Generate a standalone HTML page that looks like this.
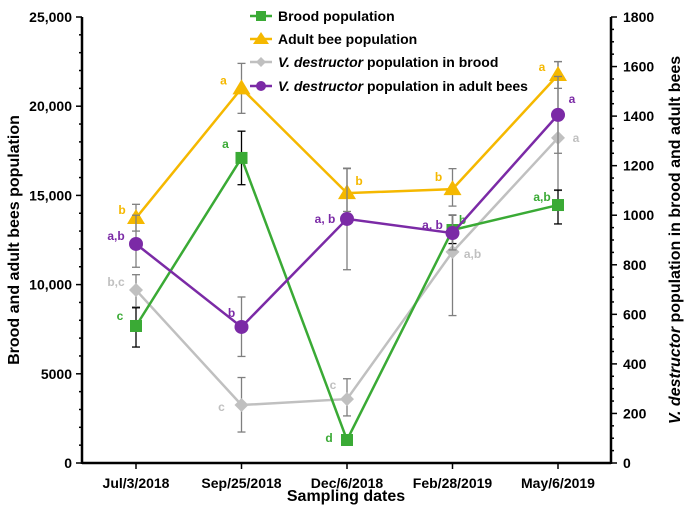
<!DOCTYPE html>
<html><head><meta charset="utf-8"><style>
html,body{margin:0;padding:0;background:#fff}
svg{display:block;font-family:"Liberation Sans",Arial,sans-serif}
</style></head><body>
<svg id="chart" width="688" height="508" viewBox="0 0 688 508" xmlns="http://www.w3.org/2000/svg"></svg>
<script>
const categories = ["Jul/3/2018","Sep/25/2018","Dec/6/2018","Feb/28/2019","May/6/2019"];
const leftTicks = [0,5000,10000,15000,20000,25000];
const leftTickLabels = ["0","5000","10,000","15,000","20,000","25,000"];
const rightTicks = [0,200,400,600,800,1000,1200,1400,1600,1800];
const broodValues = [7680,17100,1290,13060,14460];
const broodLow = [6500,15600,1000,12300,13400];
const broodHigh = [8700,18600,1500,13900,15300];
const broodLetters = ["c","a","d","b","a,b"];
const adultValues = [13730,21000,15130,15350,21750];
const adultLow = [13000,19600,14100,14400,21000];
const adultHigh = [14500,22400,16500,16500,22500];
const adultLetters = ["b","a","b","b","a"];
const miteBroodValues = [698,234,258,852,1312];
const miteBroodLow = [630,125,190,595,1100];
const miteBroodHigh = [760,345,340,1000,1620];
const miteBroodLetters = ["b,c","c","c","a,b","a"];
const miteAdultValues = [884,549,985,928,1405];
const miteAdultLow = [790,430,780,860,1250];
const miteAdultHigh = [1000,670,1190,1000,1560];
const miteAdultLetters = ["a,b","b","a, b","a, b","a"];

const svg = document.getElementById('chart');
const NS = "http://www.w3.org/2000/svg";
const X0=82, X1=611, Y0=463, Y1=17;
const xPos = i => 136 + i*105.5;
const yL = v => Y0 - v/25000*(Y0-Y1);
const yR = v => Y0 - v/1800*(Y0-Y1);
function mk(tag, attrs, parent){const e=document.createElementNS(NS,tag);for(const k in attrs)e.setAttribute(k,attrs[k]);(parent||svg).appendChild(e);return e;}
function txt(s, attrs, parent){const e=mk('text',attrs,parent);e.textContent=s;return e;}

// axes
const ax = mk('g',{});


mk('line',{x1:X0,y1:Y1,x2:X0,y2:Y0+1,stroke:'#000','stroke-width':2.5},ax);
mk('line',{x1:X1,y1:Y1,x2:X1,y2:Y0+1,stroke:'#000','stroke-width':2.5},ax);
mk('line',{x1:X0,y1:Y0,x2:X1,y2:Y0,stroke:'#000','stroke-width':2.5},ax);
for(let v=0;v<=25000;v+=1000){const y=yL(v);const major=v%5000===0;mk('line',{x1:X0-(major?6:3),y1:y,x2:X0,y2:y,stroke:'#000','stroke-width':1.5},ax);}
leftTicks.forEach((v,i)=>{const t=txt(leftTickLabels[i],{x:X0-10,y:yL(v)+5,'text-anchor':'end','font-size':14,'font-weight':'bold'},ax);

});
for(let v=0;v<=1800;v+=50){const y=yR(v);const major=v%200===0;mk('line',{x1:X1,y1:y,x2:X1+(major?6:3),y2:y,stroke:'#000','stroke-width':1.5},ax);}
rightTicks.forEach(v=>{const t=txt(String(v),{x:X1+12,y:yR(v)+5,'text-anchor':'start','font-size':14,'font-weight':'bold'},ax);

});
categories.forEach((c,i)=>{mk('line',{x1:xPos(i),y1:Y0,x2:xPos(i),y2:Y0+6,stroke:'#000','stroke-width':1.5},ax);
const t=txt(c,{x:xPos(i),y:Y0+25,'text-anchor':'middle','font-size':14,'font-weight':'bold'},ax);

});
const xt=txt('Sampling dates',{x:346,y:501,'text-anchor':'middle','font-size':16,'font-weight':'bold'});


const yt=txt('Brood and adult bees population',{x:0,y:0,'text-anchor':'middle','font-size':16,'font-weight':'bold',transform:'translate(19,240) rotate(-90)'});


const ry=mk('text',{x:0,y:0,'text-anchor':'middle','font-size':16,'font-weight':'bold',transform:'translate(680,240) rotate(-90)'});


ry.innerHTML='<tspan font-style="italic">V. destructor</tspan> population in brood and adult bees';

function marker(type,x,y,color,g){
  if(type==='sq') mk('rect',{x:x-6,y:y-6,width:12,height:12,fill:color},g);
  else if(type==='tri') mk('polygon',{points:`${x},${y-9} ${x-9},${y+6} ${x+9},${y+6}`,fill:color},g);
  else if(type==='dia') mk('polygon',{points:`${x},${y-7} ${x+7},${y} ${x},${y+7} ${x-7},${y}`,fill:color},g);
  else mk('circle',{cx:x,cy:y,r:7,fill:color},g);
}
function series(name,vals,lo,hi,letters,ys,color,barColor,type,lblDx,lblDy){
  const g=mk('g',{});
  
  
  vals.forEach((v,i)=>{const x=xPos(i);
    mk('line',{x1:x,y1:ys(lo[i]),x2:x,y2:ys(hi[i]),stroke:barColor,'stroke-width':1.3},g);
    mk('line',{x1:x-4,y1:ys(lo[i]),x2:x+4,y2:ys(lo[i]),stroke:barColor,'stroke-width':1.3},g);
    mk('line',{x1:x-4,y1:ys(hi[i]),x2:x+4,y2:ys(hi[i]),stroke:barColor,'stroke-width':1.3},g);});
  mk('polyline',{points:vals.map((v,i)=>xPos(i)+','+ys(v)).join(' '),fill:'none',stroke:color,'stroke-width':2.5},g);
  vals.forEach((v,i)=>{marker(type,xPos(i),ys(v),color,g);
    const t=txt(letters[i],{x:xPos(i)+lblDx[i],y:ys(v)+lblDy[i],'text-anchor':'middle','font-size':12,'font-weight':'bold',fill:color},g);
    
    });
}
series('series-mite-brood',miteBroodValues,miteBroodLow,miteBroodHigh,miteBroodLetters,yR,'#c0c0c0','#7f7f7f','dia',[-20,-20,-14,20,18],[-4,6,-10,6,4]);
series('series-brood',broodValues,broodLow,broodHigh,broodLetters,yL,'#3aaa35','#000','sq',[-16,-16,-18,10,-16],[-6,-10,2,-6,-4]);
series('series-adult',adultValues,adultLow,adultHigh,adultLetters,yL,'#f5b800','#7f7f7f','tri',[-14,-18,12,-14,-16],[-4,-4,-8,-8,-4]);
series('series-mite-adult',miteAdultValues,miteAdultLow,miteAdultHigh,miteAdultLetters,yR,'#7b2aa6','#7f7f7f','circ',[-20,-10,-22,-20,14],[-4,-10,4,-4,-12]);

// legend
const leg=[['Brood population','#3aaa35','sq',false],['Adult bee population','#f5b800','tri',false],['population in brood','#c0c0c0','dia',true],['population in adult bees','#7b2aa6','circ',true]];
const lys=[16,39,62,86];
leg.forEach((l,i)=>{const g=mk('g',{});
  
  
  const y=lys[i];
  mk('line',{x1:250,y1:y,x2:272,y2:y,stroke:l[1],'stroke-width':2.5},g);
  if(l[2]==='sq') mk('rect',{x:256,y:y-5,width:10,height:10,fill:l[1]},g);
  else if(l[2]==='tri') mk('polygon',{points:`261,${y-7} 253,${y+5} 269,${y+5}`,fill:l[1]},g);
  else if(l[2]==='dia') mk('polygon',{points:`261,${y-5} 266,${y} 261,${y+5} 256,${y}`,fill:l[1]},g);
  else mk('circle',{cx:261,cy:y,r:5,fill:l[1]},g);
  const t=mk('text',{x:278,y:y+5,'font-size':14,'font-weight':'bold'},g);
  t.innerHTML = l[3] ? '<tspan font-style="italic">V. destructor</tspan> '+l[0] : l[0];
});
</script>
</body></html>
